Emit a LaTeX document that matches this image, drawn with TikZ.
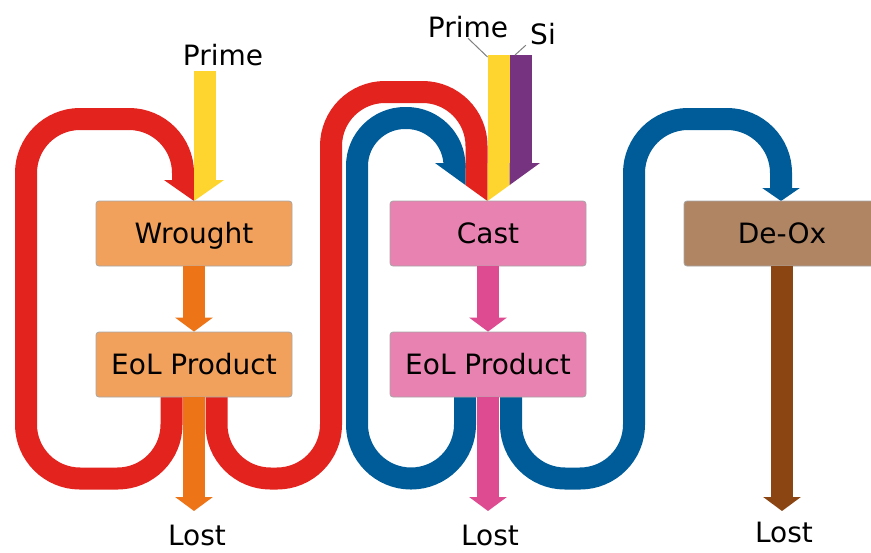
\documentclass[tikz,border=0pt]{standalone}
\usepackage{fontspec}
\setmainfont{DejaVu Sans}
\usetikzlibrary{arrows.meta}
\definecolor{flowred}{RGB}{227,35,30}
\definecolor{flowblue}{RGB}{0,92,153}
\definecolor{primeyellow}{RGB}{254,213,46}
\definecolor{sipurple}{RGB}{118,52,128}
\definecolor{wroughtfill}{RGB}{242,161,92}
\definecolor{wroughtflow}{RGB}{238,116,24}
\definecolor{castfill}{RGB}{232,130,176}
\definecolor{castflow}{RGB}{222,75,145}
\definecolor{deoxfill}{RGB}{176,133,100}
\definecolor{deoxflow}{RGB}{139,69,19}

\begin{document}
\begin{tikzpicture}[x=0.5pt,y=-0.5pt,
  band/.style={line width=11pt,rounded corners=27pt},
  proc/.style={draw=gray!70,line width=0.4pt,rounded corners=1.5pt,minimum width=98pt,minimum height=32.5pt,
    text height=10.2pt,text depth=0pt,font=\fontsize{14}{16}\selectfont},
  txt/.style={font=\fontsize{14}{16}\selectfont,inner sep=0pt},
  loss/.style={line width=11pt,-{Triangle[width=18.5pt,length=7pt]}}]
\useasboundingbox (0,0) rectangle (871,552);
\clip (0,0) rectangle (871,552);

\draw[band,flowred] (171.5,380) -- (171.5,478.5) -- (26,478.5) -- (26,119) -- (183,119) -- (183,180);
\draw[band,flowred] (216.5,380) -- (216.5,478.5) -- (331,478.5) -- (331,92) -- (476.5,92) -- (476.5,163);
\draw[band,flowblue] (465,380) -- (465,478.5) -- (357,478.5) [rounded corners=24pt] -- (357,118) -- (454.5,118) -- (454.5,168);
\draw[band,flowblue,-{Triangle[width=18.5pt,length=6.5pt]}] (511,380) -- (511,478.5) -- (634,478.5) -- (634,119) -- (781,119) -- (781,201);
\draw[line width=11pt,primeyellow] (205,71) -- (205,180);
\draw[line width=11pt,primeyellow] (498.5,55) -- (498.5,163);
\draw[line width=11pt,sipurple] (520.5,55) -- (520.5,163);

\fill[flowred] (164,180) -- (194,201) -- (194,180) -- cycle;
\fill[primeyellow] (194,180) -- (194,201) -- (224,180) -- cycle;
\fill[flowblue] (435,163) -- (465.5,185.1) -- (465.5,163) -- cycle;
\fill[flowred] (465.5,163) -- (465.5,185.1) -- (487.5,201) -- (487.5,163) -- cycle;
\fill[primeyellow] (487.5,163) -- (487.5,201) -- (509.5,185.1) -- (509.5,163) -- cycle;
\fill[sipurple] (509.5,163) -- (509.5,185.1) -- (540,163) -- cycle;

\node[proc,fill=wroughtfill] (wrought) at (194,233.5) {Wrought};
\node[proc,fill=wroughtfill] (eolA) at (194,364.5) {EoL Product};
\node[proc,fill=castfill] (cast) at (488,233.5) {Cast};
\node[proc,fill=castfill] (eolB) at (488,364.5) {EoL Product};
\node[proc,fill=deoxfill] (deox) at (782,233.5) {De-Ox};

\node[txt] (primeA) at (223,55) {Prime};
\node[txt] (primeB) at (468,27) {Prime};
\node[txt] (si) at (543,34) {Si};
\node[txt,anchor=north] (lostA) at (197,525) {Lost};
\node[txt,anchor=north] (lostB) at (490,525) {Lost};
\node[txt,anchor=north] (lostC) at (784,522) {Lost};

\draw[loss,wroughtflow] (wrought) -- (eolA);
\draw[loss,wroughtflow,shorten >=7pt] (eolA) -- (eolA.south |- lostA.north);
\draw[loss,castflow] (cast) -- (eolB);
\draw[loss,castflow,shorten >=7pt] (eolB) -- (eolB.south |- lostB.north);
\draw[loss,deoxflow,shorten >=5.5pt] (deox) -- (deox.south |- lostC.north);

\draw[gray,line width=0.5pt] (primeB.south) -- (487.5,57);
\draw[gray,line width=0.5pt] ([xshift=-2pt]si.south west) -- (515,55);
\end{tikzpicture}
\end{document}
